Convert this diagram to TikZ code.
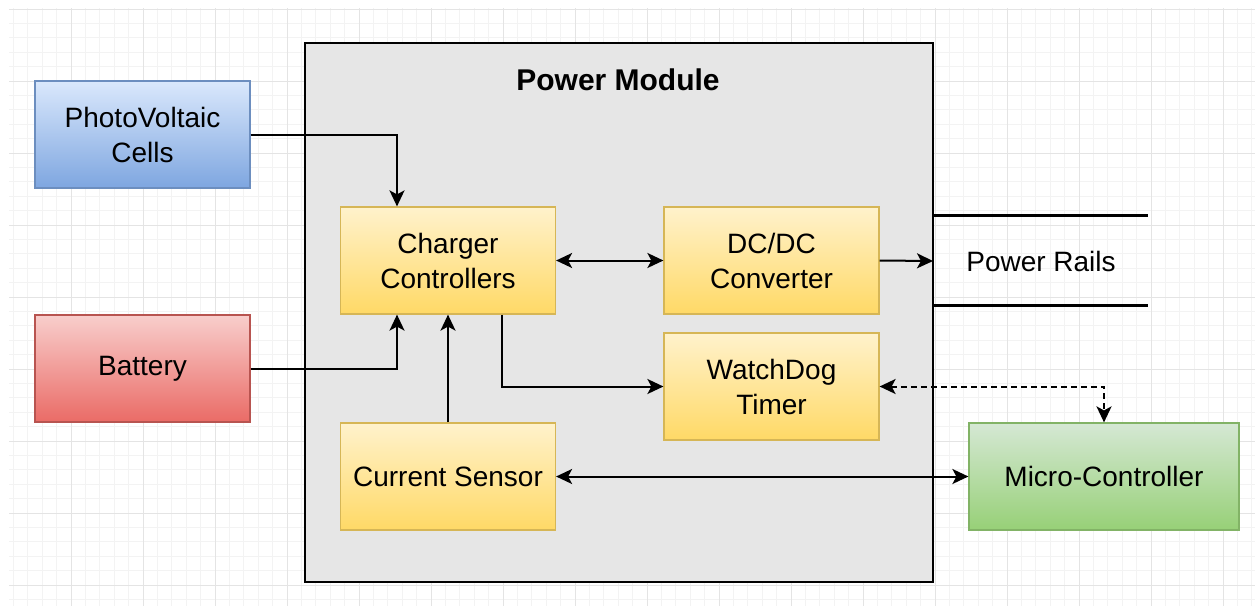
\documentclass[tikz,border=0pt]{standalone}
\usepackage{fontspec}
\setmainfont{Liberation Sans}
\usetikzlibrary{arrows.meta,calc}
\definecolor{gridminor}{HTML}{F3F3F3}
\definecolor{gridmajor}{HTML}{E4E4E4}
\definecolor{pmfill}{HTML}{E6E6E6}
\definecolor{bluetop}{HTML}{DAE8FC}
\definecolor{bluebot}{HTML}{7EA6E0}
\definecolor{blueline}{HTML}{6C8EBF}
\definecolor{redtop}{HTML}{F8CECC}
\definecolor{redbot}{HTML}{EA6B66}
\definecolor{redline}{HTML}{B85450}
\definecolor{yeltop}{HTML}{FFF2CC}
\definecolor{yelbot}{HTML}{FFD966}
\definecolor{yelline}{HTML}{D6B656}
\definecolor{grntop}{HTML}{D5E8D4}
\definecolor{grnbot}{HTML}{97D077}
\definecolor{grnline}{HTML}{82B366}
\tikzset{
  blockbox/.style={rectangle, minimum width=215pt, minimum height=107pt, inner sep=0pt,
    align=center, line width=1.2pt, font=\fontsize{28}{35}\selectfont},
  bluebox/.style={blockbox, draw=blueline, top color=bluetop, bottom color=bluebot},
  redbox/.style={blockbox, draw=redline, top color=redtop, bottom color=redbot},
  yelbox/.style={blockbox, draw=yelline, top color=yeltop, bottom color=yelbot},
  grnbox/.style={blockbox, draw=grnline, top color=grntop, bottom color=grnbot},
  conn/.style={line width=2pt, -{Stealth[length=16pt,width=15pt,inset=4pt]}},
  biconn/.style={line width=2pt, {Stealth[length=16pt,width=15pt,inset=4pt]}-{Stealth[length=16pt,width=15pt,inset=4pt]}},
  rail/.style={line width=3pt},
}
\begin{document}
\begin{tikzpicture}[x=1pt,y=-1pt]
\useasboundingbox (0,0) rectangle (1255,606);
\fill[white] (0,0) rectangle (1255,606);
% grid
\foreach \i in {1,...,87} {
  \pgfmathsetmacro\gx{-1+14.4*\i}
  \draw[gridminor, line width=0.8pt] (\gx,8) -- (\gx,606);
}
\foreach \j in {0,...,41} {
  \pgfmathsetmacro\gy{9+14.4*\j}
  \draw[gridminor, line width=0.8pt] (9,\gy) -- (1255,\gy);
}
\foreach \i in {1,...,17} {
  \pgfmathsetmacro\gx{-1+72*\i}
  \draw[gridmajor, line width=1pt] (\gx,8) -- (\gx,606);
}
\foreach \j in {0,...,8} {
  \pgfmathsetmacro\gy{9+72*\j}
  \draw[gridmajor, line width=1pt] (9,\gy) -- (1255,\gy);
}
% power module
\node[draw=black, fill=pmfill, line width=2pt, minimum width=628pt, minimum height=539pt, inner sep=0pt] (pm) at (619,312.5) {};
\node[font=\bfseries\fontsize{30}{36}\selectfont] (pmtitle) at (618,80) {Power Module};
% blocks
\node[bluebox] (pv) at (142.5,134.5) {PhotoVoltaic\\Cells};
\node[redbox] (bat) at (142.5,368.5) {Battery};
\node[yelbox] (ch) at (448,260.5) {Charger\\Controllers};
\node[yelbox] (dc) at (771.5,260.5) {DC/DC\\Converter};
\node[yelbox] (wd) at (771.5,386.5) {WatchDog\\Timer};
\node[yelbox] (cs) at (448,476.5) {Current Sensor};
\node[grnbox, minimum width=270pt] (mc) at (1104,476.5) {Micro-Controller};
% power rails
\coordinate (prin) at (933,261);
\coordinate (r1a) at (933,215);
\coordinate (r1b) at (1148,215);
\coordinate (r2a) at (933,305);
\coordinate (r2b) at (1148,305);
\draw[rail] (r1a) -- (r1b);
\draw[rail] (r2a) -- (r2b);
\node[font=\fontsize{28}{35}\selectfont] (prtext) at (1041,261) {Power Rails};
% connectors
\draw[conn] (pv.east) -| ([xshift=-51pt]ch.north);
\draw[conn] (bat.east) -| ([xshift=-51pt]ch.south);
\draw[conn] (cs.north) -- (ch.south);
\draw[conn] ([xshift=54pt]ch.south) |- (wd.west);
\draw[biconn] (ch.east) -- (dc.west);
\draw[conn] (dc.east) -- (prin);
\draw[biconn, dash pattern=on 6pt off 4pt] (wd.east) -| (mc.north);
\draw[biconn] (cs.east) -- (mc.west);
\end{tikzpicture}
\end{document}
